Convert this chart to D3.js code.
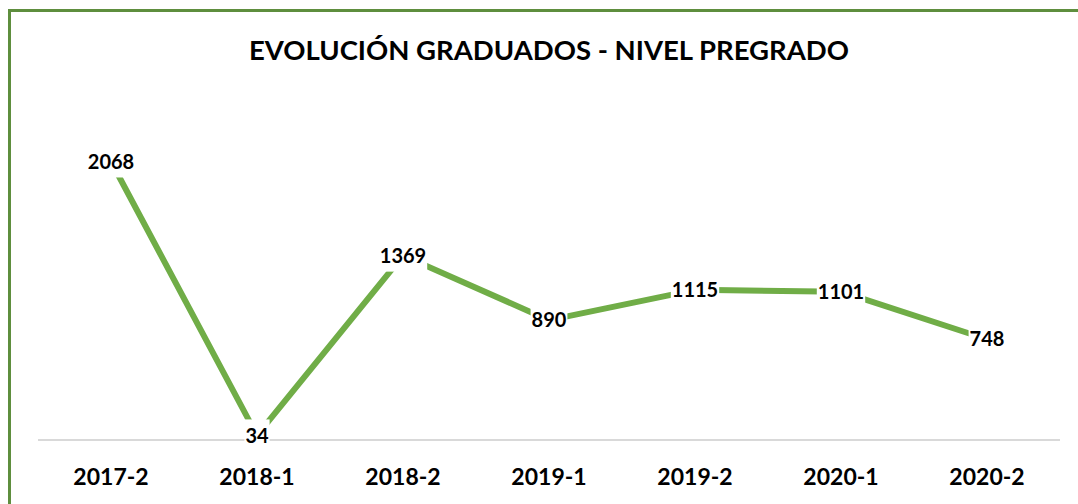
<!DOCTYPE html>
<html><head><meta charset="utf-8">
<script src="https://cdn.jsdelivr.net/npm/d3@7"></script>
<style>body{margin:0;background:#fff}svg{display:block}</style>
</head><body>
<script>
const categories = ["2017-2","2018-1","2018-2","2019-1","2019-2","2020-1","2020-2"];
const graduados = [2068, 34, 1369, 890, 1115, 1101, 748];
const title = "EVOLUCIÓN GRADUADOS - NIVEL PREGRADO";

const W = 1078, H = 504;
const FONT = "Lato, 'Open Sans', sans-serif";
const svg = d3.select("body").append("svg").attr("width", W).attr("height", H);

svg.append("rect").attr("x", 9.5).attr("y", 10.5).attr("width", 1200).attr("height", 700)
  .attr("fill", "none").attr("stroke", "#5E8E3E").attr("stroke-width", 3);

svg.append("text").attr("x", 549).attr("y", 60).attr("text-anchor", "middle")
  .attr("font-family", FONT).attr("font-weight", 700).attr("font-size", 27.5)
  .attr("fill", "#000").text(title);

const x = d3.scaleBand().domain(categories).range([38, 1060]);
const y = d3.scaleLinear().domain([0, 2500]).range([440, 103.3]);

svg.append("line").attr("x1", 38).attr("x2", 1060).attr("y1", y(0)).attr("y2", y(0))
  .attr("stroke", "#D9D9D9").attr("stroke-width", 2);

const xAxis = svg.append("g").attr("transform", `translate(0,${y(0)})`)
  .call(d3.axisBottom(x).tickSize(0).tickPadding(0));
xAxis.select(".domain").remove();
xAxis.selectAll("text").attr("font-family", FONT).attr("font-weight", 700)
  .attr("font-size", 23).attr("fill", "#000").attr("dy", null).attr("y", 45);

const pts = categories.map((c, i) => [x(c) + x.bandwidth() / 2, y(graduados[i])]);
svg.append("path").attr("d", d3.line()(pts)).attr("fill", "none")
  .attr("stroke", "#70AD47").attr("stroke-width", 6).attr("stroke-linejoin", "round");

const lab = svg.append("g").selectAll("g").data(graduados).join("g")
  .attr("transform", (d, i) => `translate(${pts[i][0]},${pts[i][1]})`);
const txt = lab.append("text").attr("text-anchor", "middle").attr("dy", "0.36em")
  .attr("font-family", FONT).attr("font-weight", 700).attr("font-size", 20)
  .attr("fill", "#000").text(d => d);
lab.each(function () {
  const g = d3.select(this);
  const w = g.select("text").node().getComputedTextLength();
  g.insert("rect", "text").attr("x", -w / 2 - 1).attr("y", -16).attr("width", w + 2)
    .attr("height", 32).attr("fill", "#fff");
});
</script>
</body></html>
